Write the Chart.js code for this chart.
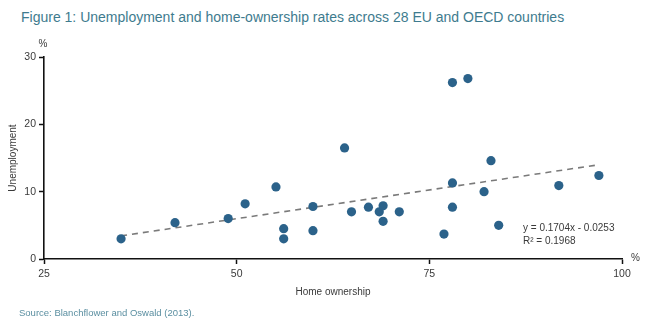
<!DOCTYPE html>
<html>
<head>
<meta charset="utf-8">
<script src="https://cdn.jsdelivr.net/npm/chart.js@4/dist/chart.umd.min.js"></script>
<style>
  html, body { margin: 0; padding: 0; background: #fff; }
  #wrap { position: relative; width: 650px; height: 328px; overflow: hidden; }
  #c { position: absolute; left: 0; top: 0; }
  #title { position: absolute; left: 21px; top: 9px; font: 14px "Liberation Sans", Arial, sans-serif; color: #3e7b8e; white-space: nowrap; line-height: 16px; }
  #source { position: absolute; left: 19px; top: 307px; font: 9.5px "Liberation Sans", Arial, sans-serif; color: #5b8fa1; white-space: nowrap; line-height: 12px; }
</style>
</head>
<body>
<div id="wrap">
  <div id="title">Figure 1: Unemployment and home-ownership rates across 28 EU and OECD countries</div>
  <canvas id="c" width="650" height="328"></canvas>
  <div id="source">Source: Blanchflower and Oswald (2013).</div>
</div>
<script>
// Home ownership rate (%) per country
const homeOwnership = [35.0, 42.0, 48.9, 51.1, 55.1, 56.1, 56.1, 59.9, 59.9, 64.0, 64.9, 67.1, 68.5, 69.0, 69.0, 71.1, 78.0, 80.0, 83.0, 78.0, 82.1, 78.0, 84.0, 76.9, 91.8, 97.0];
// Unemployment rate (%) per country
const unemployment = [3.0, 5.4, 6.0, 8.2, 10.7, 4.5, 3.0, 7.8, 4.2, 16.5, 7.0, 7.7, 7.0, 7.9, 5.6, 7.0, 26.2, 26.8, 14.6, 11.3, 10.0, 7.7, 5.0, 3.7, 10.9, 12.4];
// Linear trend line end points (as drawn)
const trendX = [35, 97];
const trendY = [3.43, 14.0];
// Axis ticks
const xTicks = [25, 50, 75, 100];
const yTicks = [0, 10, 20, 30];
// Annotation texts
const equationLines = ["y = 0.1704x - 0.0253", "R\u00B2 = 0.1968"];
const xUnit = "%";
const yUnit = "%";

const FONT = '"Liberation Sans", Arial, sans-serif';
const TEXT = '#3a3a3a';

const points = homeOwnership.map((x, i) => ({ x: x, y: unemployment[i] }));
const trend = trendX.map((x, i) => ({ x: x, y: trendY[i] }));

const annot = {
  id: 'annot',
  afterDraw(chart) {
    const ctx = chart.ctx;
    const a = chart.chartArea;
    ctx.save();
    ctx.fillStyle = TEXT;
    ctx.font = '10px ' + FONT;
    ctx.textBaseline = 'middle';
    ctx.textAlign = 'center';
    ctx.fillText(yUnit, a.left - 1, a.top - 13);
    ctx.textAlign = 'left';
    ctx.fillText(xUnit, a.right + 9, a.bottom - 1);
    ctx.fillText(equationLines[0], a.right - 99, a.bottom - 31);
    ctx.fillText(equationLines[1], a.right - 99, a.bottom - 18);
    ctx.restore();
  }
};

new Chart(document.getElementById('c'), {
  type: 'scatter',
  data: {
    datasets: [
      {
        type: 'line',
        data: trend,
        borderColor: '#7a7a7a',
        borderWidth: 1.6,
        borderDash: [6, 5],
        pointRadius: 0,
        fill: false,
        order: 2
      },
      {
        data: points,
        backgroundColor: '#2b628a',
        borderColor: '#2b628a',
        borderWidth: 0,
        pointRadius: 4.6,
        pointHoverRadius: 4.6,
        order: 1
      }
    ]
  },
  options: {
    responsive: false,
    animation: false,
    events: [],
    layout: { padding: { left: 0, right: 28, top: 57, bottom: 28 } },
    plugins: {
      legend: { display: false },
      tooltip: { enabled: false },
      title: { display: false }
    },
    scales: {
      x: {
        type: 'linear',
        min: 25, max: 100,
        afterBuildTicks: (s) => { s.ticks = xTicks.map(v => ({ value: v })); },
        afterFit: (s) => { s.height = 41; },
        grid: { display: true, drawOnChartArea: false, drawTicks: true, tickLength: 5, tickColor: '#111', tickWidth: 1.5 },
        border: { display: true, color: '#111', width: 1.6 },
        ticks: { color: TEXT, font: { family: FONT, size: 10.5 }, padding: 4, maxRotation: 0 },
        title: { display: true, text: 'Home ownership', color: TEXT, font: { family: FONT, size: 10 }, padding: { top: 4, bottom: 2 } }
      },
      y: {
        type: 'linear',
        min: 0, max: 30,
        afterBuildTicks: (s) => { s.ticks = yTicks.map(v => ({ value: v })); },
        afterFit: (s) => { s.width = 44; },
        grid: { display: true, drawOnChartArea: false, drawTicks: true, tickLength: 5, tickColor: '#111', tickWidth: 1.5 },
        border: { display: true, color: '#111', width: 1.6 },
        ticks: { color: TEXT, font: { family: FONT, size: 10.5 }, padding: 3 },
        title: { display: true, text: 'Unemployment', color: TEXT, font: { family: FONT, size: 10 }, padding: { top: 7, bottom: 4 } }
      }
    }
  },
  plugins: [annot]
});
</script>
</body>
</html>
